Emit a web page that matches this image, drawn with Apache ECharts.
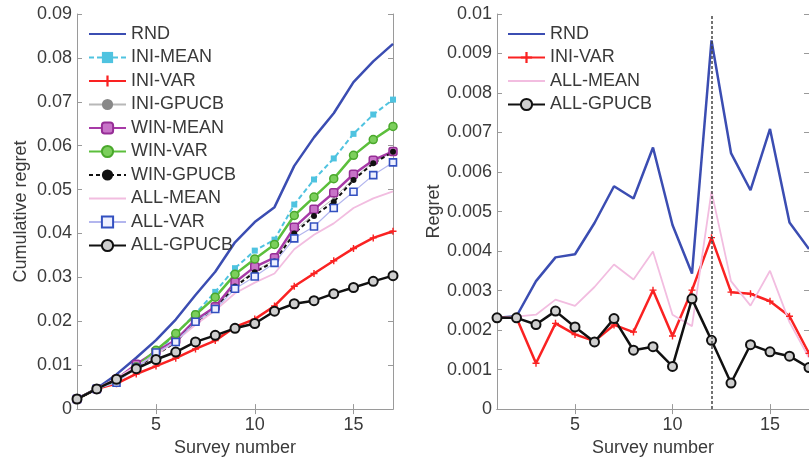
<!DOCTYPE html>
<html><head><meta charset="utf-8">
<script src="https://cdn.jsdelivr.net/npm/echarts@6/dist/echarts.min.js"></script>
<style>html,body{margin:0;padding:0;background:#fff}#c{width:809px;height:462px}</style>
</head><body><div id="c"></div>
<script>
const surveys = [1,2,3,4,5,6,7,8,9,10,11,12,13,14,15,16,17];
const xTickLabels = [5,10,15];
const markedSurvey = 12;

// Left panel: cumulative regret
const rndCum      = [0.0023,0.0047,0.0079,0.0117,0.0157,0.0204,0.0260,0.0313,0.0380,0.0426,0.0460,0.0554,0.0619,0.0674,0.0745,0.0792,0.0832];
const iniMeanCum  = [0.0023,0.0046,0.0069,0.0099,0.0130,0.0170,0.0218,0.0267,0.0321,0.0361,0.0386,0.0466,0.0523,0.0571,0.0627,0.0671,0.0705];
const iniVarCum   = [0.0023,0.0046,0.0058,0.0080,0.0098,0.0116,0.0137,0.0156,0.0187,0.0205,0.0235,0.0280,0.0309,0.0338,0.0366,0.0390,0.0405];
const iniGpucbCum = [0.0023,0.0046,0.0066,0.0094,0.0124,0.0154,0.0199,0.0230,0.0282,0.0315,0.0339,0.0406,0.0445,0.0480,0.0526,0.0562,0.0586];
const winMeanCum  = [0.0023,0.0046,0.0068,0.0102,0.0131,0.0157,0.0203,0.0233,0.0289,0.0324,0.0345,0.0414,0.0455,0.0493,0.0535,0.0567,0.0587];
const winVarCum   = [0.0023,0.0046,0.0066,0.0096,0.0134,0.0172,0.0215,0.0255,0.0307,0.0342,0.0375,0.0441,0.0483,0.0525,0.0578,0.0614,0.0644];
const winGpucbCum = [0.0023,0.0046,0.0067,0.0095,0.0123,0.0153,0.0198,0.0228,0.0279,0.0312,0.0336,0.0400,0.0440,0.0472,0.0522,0.0560,0.0586];
const allMeanCum  = [0.0023,0.0047,0.0070,0.0098,0.0124,0.0155,0.0192,0.0225,0.0264,0.0288,0.0309,0.0364,0.0397,0.0423,0.0458,0.0480,0.0496];
const allVarCum   = [0.0023,0.0046,0.0060,0.0094,0.0129,0.0153,0.0199,0.0228,0.0274,0.0302,0.0333,0.0389,0.0416,0.0458,0.0495,0.0533,0.0562];
const allGpucbCum = [0.0023,0.0046,0.0068,0.0092,0.0113,0.0130,0.0153,0.0168,0.0184,0.0195,0.0223,0.0240,0.0247,0.0263,0.0277,0.0291,0.0304];

// Right panel: per-survey regret
const rndReg      = [0.00231,0.00235,0.00324,0.00384,0.00392,0.00471,0.00564,0.00533,0.00662,0.00466,0.00343,0.00933,0.00648,0.00554,0.00709,0.00472,0.00405];
const iniVarReg   = [0.00231,0.00231,0.00116,0.00217,0.00189,0.00172,0.00213,0.00195,0.00301,0.00185,0.00301,0.00434,0.00296,0.00292,0.00273,0.00235,0.00141];
const allMeanReg  = [0.00231,0.00234,0.00239,0.00277,0.00261,0.00309,0.00366,0.00328,0.00399,0.00239,0.00210,0.00551,0.00324,0.00262,0.00350,0.00220,0.00130];
const allGpucbReg = [0.00231,0.00231,0.00214,0.00248,0.00208,0.00170,0.00229,0.00149,0.00158,0.00108,0.00279,0.00174,0.00066,0.00163,0.00145,0.00134,0.00105];

const FONT = '"Liberation Sans", Arial, Helvetica, sans-serif';
const TXT = '#3a3a3a';
const AX = '#9a9a9a';
const plus = 'path://M4,0h2v4h4v2h-4v4h-2v-4h-4v-2h4z';

const pair = a => surveys.map((s,i)=>[s,a[i]]);
const fmtY = v => String(+v.toFixed(4));

function xAxes(gi){
  return [
    {type:'value', gridIndex:gi, min:1, max:17, position:'bottom',
     name:'Survey number', nameLocation:'middle', nameGap:29,
     nameTextStyle:{fontFamily:FONT,fontSize:18,color:TXT},
     axisLine:{lineStyle:{color:AX,width:1}},
     axisTick:{inside:true,length:5,customValues:xTickLabels,lineStyle:{color:AX}},
     axisLabel:{customValues:xTickLabels,fontFamily:FONT,fontSize:18,color:TXT,margin:7},
     splitLine:{show:false}},
    {type:'value', gridIndex:gi, min:1, max:17, position:'top',
     axisLine:{lineStyle:{color:AX,width:1}},
     axisTick:{inside:true,length:5,customValues:xTickLabels,lineStyle:{color:AX}},
     axisLabel:{show:false}, splitLine:{show:false}}
  ];
}
function yAxes(gi,max,interval,name,gap){
  return [
    {type:'value', gridIndex:gi, min:0, max:max, interval:interval, position:'left',
     name:name, nameLocation:'middle', nameGap:gap, nameRotate:90,
     nameTextStyle:{fontFamily:FONT,fontSize:18,color:TXT},
     axisLine:{show:true,lineStyle:{color:AX,width:1}},
     axisTick:{show:true,inside:true,length:5,lineStyle:{color:AX}},
     axisLabel:{formatter:fmtY,fontFamily:FONT,fontSize:18,color:TXT,margin:5},
     splitLine:{show:false}},
    {type:'value', gridIndex:gi, min:0, max:max, interval:interval, position:'right',
     axisLine:{show:true,lineStyle:{color:AX,width:1}},
     axisTick:{show:true,inside:true,length:5,lineStyle:{color:AX}},
     axisLabel:{show:false}, splitLine:{show:false}}
  ];
}

function ser(name, data, xi, yi, o){
  return Object.assign({
    name:name, type:'line', data:pair(data), xAxisIndex:xi, yAxisIndex:yi,
    animation:false, symbol:'none', z:2
  }, o);
}

const S = {
  'RND':       {lineStyle:{color:'#3b4db2',width:2.5}, itemStyle:{color:'#3b4db2'}},
  'INI-MEAN':  {lineStyle:{color:'#4fc3e0',width:2,type:[5,3]}, itemStyle:{color:'#4fc3e0'}, symbol:'rect', symbolSize:6},
  'INI-VAR':   {lineStyle:{color:'#fa2222',width:2.5}, itemStyle:{color:'#fa2222'}, symbol:plus, symbolSize:7},
  'INI-GPUCB': {lineStyle:{color:'#b8b8b8',width:1}, itemStyle:{color:'#888888'}, symbol:'circle', symbolSize:3},
  'WIN-MEAN':  {lineStyle:{color:'#a73aa7',width:2.5}, itemStyle:{color:'#c873c8',borderColor:'#962e96',borderWidth:1.5}, symbol:'roundRect', symbolSize:8},
  'WIN-VAR':   {lineStyle:{color:'#5cbf3c',width:2.5}, itemStyle:{color:'#7ccf5c',borderColor:'#4aa82c',borderWidth:1.5}, symbol:'circle', symbolSize:8},
  'WIN-GPUCB': {lineStyle:{color:'#111111',width:2,type:[4,3]}, itemStyle:{color:'#111111'}, symbol:'circle', symbolSize:6},
  'ALL-MEAN':  {lineStyle:{color:'#f2bde0',width:1.8}, itemStyle:{color:'#f2bde0'}},
  'ALL-VAR':   {lineStyle:{color:'#b3b6ee',width:1.2}, itemStyle:{color:'#eef0ff',borderColor:'#3350c0',borderWidth:1.6}, symbol:'rect', symbolSize:7},
  'ALL-GPUCB': {lineStyle:{color:'#111111',width:2.5}, itemStyle:{color:'#cfcfcf',borderColor:'#111111',borderWidth:2}, symbol:'circle', symbolSize:9}
};

const leftData = [
  ['RND',rndCum],['INI-MEAN',iniMeanCum],['INI-VAR',iniVarCum],['INI-GPUCB',iniGpucbCum],
  ['WIN-MEAN',winMeanCum],['WIN-VAR',winVarCum],['WIN-GPUCB',winGpucbCum],
  ['ALL-MEAN',allMeanCum],['ALL-VAR',allVarCum],['ALL-GPUCB',allGpucbCum]
];
const rightData = [['RND',rndReg],['INI-VAR',iniVarReg],['ALL-MEAN',allMeanReg],['ALL-GPUCB',allGpucbReg]];

const series = [];
leftData.forEach(([n,d])=>series.push(ser(n,d,0,0,Object.assign({},S[n]))));
rightData.forEach(([n,d],i)=>{
  const o = Object.assign({},S[n]);
  if(i===0){
    o.markLine = {silent:true, symbol:'none', animation:false, label:{show:false},
      lineStyle:{color:'#444',type:[3,2],width:1.5}, data:[{xAxis:markedSurvey}]};
  }
  series.push(ser(n,d,2,2,o));
});

const noMarker = ['RND','ALL-MEAN'];
const legendItems = list => list.map(d => noMarker.includes(d[0]) ? {name:d[0], itemStyle:{opacity:0}} : {name:d[0]});

const legendCommon = {orient:'vertical', itemWidth:37, itemHeight:14, itemGap:5.5,
  textStyle:{fontFamily:FONT,fontSize:18,color:TXT,lineHeight:18}, padding:0,
  backgroundColor:'transparent', selectedMode:false};

const chart = echarts.init(document.getElementById('c'), null, {renderer:'canvas'});
chart.setOption({
  backgroundColor:'#fff',
  animation:false,
  grid:[
    {left:77, top:14, width:316, height:397},
    {left:497, top:14, width:316, height:397}
  ],
  xAxis:[...xAxes(0), ...xAxes(1)],
  yAxis:[...yAxes(0,0.09,0.01,'Cumulative regret',47), ...yAxes(1,0.01,0.001,'Regret',44)],
  legend:[
    Object.assign({left:88, top:25, data:legendItems(leftData)}, legendCommon),
    Object.assign({left:507, top:25, data:legendItems(rightData)}, legendCommon)
  ],
  series:series
});
</script></body></html>
